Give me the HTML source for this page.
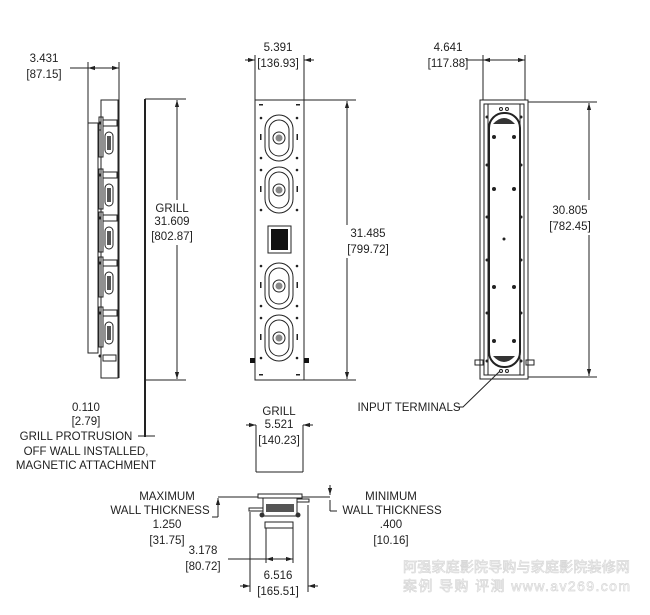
<!DOCTYPE html>
<html><head><meta charset="utf-8"><style>
html,body{margin:0;padding:0;background:#fff}
svg{display:block}
text{font-family:"Liberation Sans",sans-serif;font-size:11.5px;fill:#222;text-anchor:middle}
.l{stroke:#222;stroke-width:1;fill:none}
.t{stroke:#222;stroke-width:2;fill:none}
.wm{font-family:"Liberation Sans","Noto Sans CJK SC",sans-serif;fill:#fff;stroke:#d8d8d8;stroke-width:0.7;font-size:14px;text-anchor:start}
</style></head><body>
<svg width="650" height="615" viewBox="0 0 650 615" xmlns="http://www.w3.org/2000/svg">
<defs>
<marker id="a" viewBox="0 0 10 10" refX="10" refY="5" markerWidth="7" markerHeight="7" orient="auto-start-reverse"><path d="M0,2 L10,5 L0,8 z" fill="#222"/></marker>
<g id="drv">
<rect x="-14" y="-23" width="28" height="46" rx="14" class="l" stroke-width="1.3"/>
<rect x="-10" y="-18" width="20" height="36" rx="10" class="l"/>
<circle r="6" class="l" stroke-width="1.5"/><circle r="3.5" fill="#888"/>
<circle cx="-18" cy="-20" r="1.3" fill="#222"/><circle cx="18" cy="-20" r="1.3" fill="#222"/>
<rect x="-19" y="-4" width="1.5" height="6" fill="#222"/><rect x="17.5" y="-4" width="1.5" height="6" fill="#222"/>
<circle cx="-18" cy="20" r="1.3" fill="#222"/><circle cx="18" cy="20" r="1.3" fill="#222"/>
</g>
<g id="sd">
<rect x="-10" y="-3" width="4" height="40" class="l"/>
<rect x="-6" y="0" width="14" height="6" class="l"/>
<rect x="-4" y="12" width="8" height="22" rx="4" class="l" stroke-width="1.5"/>
<rect x="-2" y="16" width="4" height="14" fill="#555"/>
<circle cx="-9" cy="3" r="1.5" fill="#222"/>
</g>
</defs>

<!-- LEFT SIDE VIEW -->
<text x="44" y="62">3.431</text><text x="44" y="78">[87.15]</text>
<line class="l" x1="88" y1="62" x2="88" y2="123"/><line class="l" x1="119" y1="62" x2="119" y2="100"/>
<line class="l" x1="70" y1="68" x2="88" y2="68"/>
<line class="l" x1="88" y1="68" x2="119" y2="68" marker-start="url(#a)" marker-end="url(#a)"/>
<rect x="88" y="123" width="10" height="230" class="l"/>
<rect x="101" y="100" width="17" height="278" class="l"/>
<line class="l" x1="119" y1="100" x2="119" y2="378"/>
<line class="l" x1="98" y1="130" x2="101" y2="130"/>
<use href="#sd" x="109" y="120"/><use href="#sd" x="109" y="172"/><use href="#sd" x="109" y="215"/><use href="#sd" x="109" y="260"/><use href="#sd" x="109" y="310"/>
<rect x="103" y="355" width="13" height="6" class="l"/><circle cx="100" cy="356" r="1.5" fill="#222"/>
<!-- grill dim -->
<line class="t" x1="145" y1="99" x2="145" y2="437"/>
<line class="l" x1="145" y1="99" x2="186" y2="99"/><line class="l" x1="145" y1="380" x2="186" y2="380"/>
<line class="l" x1="177" y1="200" x2="177" y2="100" marker-end="url(#a)"/>
<line class="l" x1="177" y1="245" x2="177" y2="379" marker-end="url(#a)"/>
<text x="172" y="212">GRILL</text><text x="172" y="225">31.609</text><text x="172" y="240">[802.87]</text>
<line class="l" x1="138" y1="436" x2="155" y2="436"/>
<text x="86" y="411">0.110</text><text x="86" y="425">[2.79]</text>
<text x="76" y="440">GRILL PROTRUSION</text>
<text x="86" y="455">OFF WALL INSTALLED,</text>
<text x="86" y="469">MAGNETIC ATTACHMENT</text>

<!-- FRONT VIEW -->
<text x="278" y="51">5.391</text><text x="278" y="67">[136.93]</text>
<line class="l" x1="255" y1="55" x2="255" y2="100"/><line class="l" x1="304" y1="55" x2="304" y2="100"/>
<line class="l" x1="245" y1="60" x2="255" y2="60" marker-end="url(#a)"/>
<line class="l" x1="314" y1="60" x2="304" y2="60" marker-end="url(#a)"/>
<rect x="255" y="100" width="49" height="280" class="l"/>
<line class="l" x1="304" y1="100" x2="356" y2="100"/><line class="l" x1="304" y1="380" x2="356" y2="380"/>
<line class="l" x1="347" y1="225" x2="347" y2="101" marker-end="url(#a)"/>
<line class="l" x1="347" y1="258" x2="347" y2="379" marker-end="url(#a)"/>
<text x="368" y="237">31.485</text><text x="368" y="253">[799.72]</text>
<rect x="259" y="104" width="4" height="1.5" fill="#222"/><rect x="296" y="104" width="4" height="1.5" fill="#222"/>
<rect x="259" y="374" width="4" height="1.5" fill="#222"/><rect x="296" y="374" width="4" height="1.5" fill="#222"/>
<use href="#drv" x="279" y="138"/><use href="#drv" x="279" y="190"/>
<use href="#drv" x="279" y="286"/><use href="#drv" x="279" y="338"/>
<rect x="268" y="226" width="23" height="27" class="l" stroke-width="1.3"/>
<rect x="271" y="229" width="17" height="21" fill="#111"/>
<rect x="250" y="358" width="5" height="5" fill="#111"/><rect x="304" y="358" width="5" height="5" fill="#111"/>

<!-- BACK VIEW -->
<text x="448" y="51">4.641</text><text x="448" y="67">[117.88]</text>
<line class="l" x1="483" y1="55" x2="483" y2="100"/><line class="l" x1="525" y1="55" x2="525" y2="100"/>
<line class="l" x1="466" y1="60" x2="483" y2="60"/>
<line class="l" x1="483" y1="60" x2="525" y2="60" marker-start="url(#a)" marker-end="url(#a)"/>
<rect x="480" y="100" width="48" height="279" class="l"/>
<rect x="484" y="104" width="40" height="271" class="l"/>
<line class="l" x1="488" y1="104" x2="488" y2="375"/><line class="l" x1="520" y1="104" x2="520" y2="375"/>
<rect x="489" y="113" width="31" height="254" rx="15" class="t" stroke-width="2.5"/>
<path d="M493,124 Q504,112 515,124 Z" fill="#333"/><path d="M493,356 Q504,368 515,356 Z" fill="#333"/>
<g fill="#222">
<circle cx="494" cy="137" r="2"/><circle cx="514" cy="137" r="2"/>
<circle cx="494" cy="189" r="2"/><circle cx="514" cy="189" r="2"/>
<circle cx="504" cy="239" r="1.5"/>
<circle cx="494" cy="287" r="2"/><circle cx="514" cy="287" r="2"/>
<circle cx="494" cy="341" r="2"/><circle cx="514" cy="341" r="2"/>
<circle cx="487" cy="117" r="1.5"/><circle cx="521" cy="117" r="1.5"/>
<circle cx="487" cy="165" r="1.5"/><circle cx="521" cy="165" r="1.5"/>
<circle cx="487" cy="217" r="1.5"/><circle cx="521" cy="217" r="1.5"/>
<circle cx="487" cy="260" r="1.5"/><circle cx="521" cy="260" r="1.5"/>
<circle cx="487" cy="313" r="1.5"/><circle cx="521" cy="313" r="1.5"/>
<circle cx="487" cy="361" r="1.5"/><circle cx="521" cy="361" r="1.5"/>
</g>
<circle cx="501" cy="109" r="1.5" class="l"/><circle cx="507" cy="109" r="1.5" class="l"/>
<circle cx="501" cy="371" r="1.5" class="l"/><circle cx="507" cy="371" r="1.5" class="l"/>
<rect x="475" y="360" width="8" height="5" class="l"/><rect x="526" y="360" width="8" height="5" class="l"/>
<line class="l" x1="528" y1="102" x2="597" y2="102"/><line class="l" x1="528" y1="377" x2="597" y2="377"/>
<line class="l" x1="589" y1="200" x2="589" y2="103" marker-end="url(#a)"/>
<line class="l" x1="589" y1="235" x2="589" y2="376" marker-end="url(#a)"/>
<text x="570" y="214">30.805</text><text x="570" y="230">[782.45]</text>
<text x="409" y="411">INPUT TERMINALS</text>
<polyline class="l" points="457,407 463,407 500,371"/>

<!-- GRILL width -->
<text x="279" y="415">GRILL</text><text x="279" y="428">5.521</text><text x="279" y="444">[140.23]</text>
<line class="l" x1="256" y1="425" x2="256" y2="472"/><line class="l" x1="303" y1="425" x2="303" y2="472"/>
<line class="l" x1="256" y1="472" x2="303" y2="472"/>
<line class="l" x1="246" y1="425" x2="256" y2="425" marker-end="url(#a)"/>
<line class="l" x1="313" y1="425" x2="303" y2="425" marker-end="url(#a)"/>

<!-- BOTTOM SECTION -->
<text x="167" y="500">MAXIMUM</text><text x="160" y="514">WALL THICKNESS</text>
<text x="167" y="528">1.250</text><text x="167" y="544">[31.75]</text>
<text x="391" y="500">MINIMUM</text><text x="392" y="514">WALL THICKNESS</text>
<text x="391" y="528">.400</text><text x="391" y="544">[10.16]</text>
<line class="l" x1="218" y1="497" x2="258" y2="497"/>
<line class="l" x1="218" y1="503" x2="218" y2="517"/><line class="l" x1="212" y1="517" x2="218" y2="517"/>
<line class="l" x1="218" y1="503" x2="218" y2="498" marker-end="url(#a)"/>
<rect x="258" y="494" width="44" height="4" class="l"/>
<line class="l" x1="302" y1="497" x2="330" y2="497"/>
<rect x="263" y="498" width="34" height="18" class="l"/>
<rect x="266" y="504" width="28" height="8" fill="#555"/>
<rect x="249" y="508" width="14" height="3" class="l"/><rect x="297" y="499" width="12" height="3" class="l"/>
<circle cx="262" cy="515" r="2.5" fill="#333"/><circle cx="298" cy="515" r="2.5" fill="#333"/>
<rect x="265" y="522" width="28" height="6" class="l"/>
<line class="l" x1="330" y1="485" x2="330" y2="495" marker-end="url(#a)"/>
<line class="l" x1="330" y1="500" x2="330" y2="511"/><line class="l" x1="330" y1="511" x2="337" y2="511"/>
<line class="l" x1="266" y1="528" x2="266" y2="563"/><line class="l" x1="293" y1="528" x2="293" y2="563"/>
<line class="l" x1="228" y1="559" x2="266" y2="559"/>
<line class="l" x1="266" y1="559" x2="293" y2="559" marker-start="url(#a)" marker-end="url(#a)"/>
<text x="203" y="554">3.178</text><text x="203" y="570">[80.72]</text>
<line class="l" x1="250" y1="512" x2="250" y2="592"/><line class="l" x1="308" y1="505" x2="308" y2="592"/>
<line class="l" x1="240" y1="586" x2="250" y2="586" marker-end="url(#a)"/>
<line class="l" x1="318" y1="586" x2="308" y2="586" marker-end="url(#a)"/>
<text x="278" y="579">6.516</text><text x="278" y="595">[165.51]</text>

<!-- watermark -->
<text class="wm" x="403" y="572" textLength="227" lengthAdjust="spacingAndGlyphs">阿强家庭影院导购与家庭影院装修网</text>
<text class="wm" x="403" y="591" textLength="227" lengthAdjust="spacing">案例 导购 评测  www.av269.com</text>
</svg>
</body></html>
